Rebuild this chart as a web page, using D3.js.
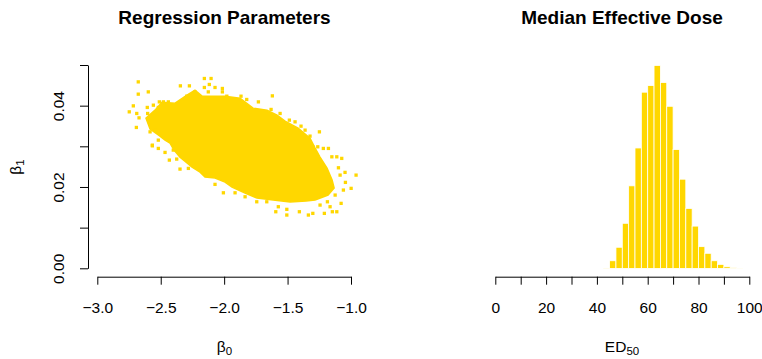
<!DOCTYPE html>
<html><head><meta charset="utf-8">
<script src="https://cdn.jsdelivr.net/npm/d3@7"></script>
<style>body{margin:0;background:#fff}svg{display:block}text{font-family:"Liberation Sans",Arial,sans-serif}</style>
</head><body><svg id="c" width="762" height="359"></svg>
<script>
// ---- data ----
const titles = ["Regression Parameters", "Median Effective Dose"];
const b0Ticks = [-3.0, -2.5, -2.0, -1.5, -1.0];
const b1Ticks = [0, 0.01, 0.02, 0.03, 0.04, 0.05];
const b1Labels = ["0.00", "", "0.02", "", "0.04", ""];
const edTicks = [0, 10, 20, 30, 40, 50, 60, 70, 80, 90, 100];
const edLabels = ["0", "", "20", "", "40", "", "60", "", "80", "", "100"];
// dense core of the posterior sample cloud (beta0, beta1) outline
const coreB0 = [-2.616,-2.545,-2.490,-2.387,-2.293,-2.230,-2.174,-2.072,-1.993,-1.875,-1.772,-1.662,-1.583,-1.520,-1.417,-1.323,-1.283,-1.244,-1.189,-1.149,-1.133,-1.181,-1.283,-1.354,-1.480,-1.614,-1.741,-1.835,-1.938,-1.993,-2.072,-2.151,-2.190,-2.253,-2.300,-2.348,-2.395,-2.427,-2.466,-2.506,-2.584];
const coreB1 = [0.03693,0.03889,0.04086,0.04061,0.04258,0.04381,0.04233,0.04233,0.04233,0.04184,0.03939,0.03889,0.03767,0.03619,0.03447,0.03201,0.02956,0.02735,0.02464,0.02170,0.01973,0.01801,0.01678,0.01654,0.01629,0.01678,0.01727,0.01850,0.01998,0.02120,0.02219,0.02243,0.02366,0.02489,0.02612,0.02735,0.02907,0.03079,0.03152,0.03251,0.03423];
// scattered individual samples outside the core
const ptB0 = [-2.677,-2.677,-2.598,-2.748,-2.716,-2.689,-2.671,-2.692,-2.606,-2.558,-2.519,-2.511,-2.603,-2.566,-2.519,-2.519,-2.345,-2.274,-2.156,-2.103,-2.156,-2.117,-2.072,-2.125,-2.014,-2.014,-1.979,-1.867,-2.230,-2.295,-2.440,-2.479,-2.584,-2.545,-1.620,-1.730,-1.822,-1.630,-1.559,-1.486,-1.441,-1.394,-1.362,-1.249,-1.323,-1.301,-1.262,-1.218,-1.178,-1.401,-1.151,-1.112,-1.073,-1.099,-1.047,-0.960,-1.086,-1.044,-0.999,-1.060,-1.125,-1.078,-1.112,-1.147,-1.165,-1.210,-1.301,-1.336,-1.407,-1.506,-1.506,-1.593,-1.835,-1.743,-1.664,-1.573,-1.244,-1.186,-2.566,-2.466,-2.432,-2.374,-2.348,-2.282,-2.072,-2.006,-1.914,-2.401];
const ptB1 = [0.04585,0.04283,0.04339,0.03848,0.03995,0.03808,0.03700,0.03464,0.03956,0.04012,0.03956,0.04093,0.03808,0.03029,0.03152,0.02948,0.04487,0.04487,0.04668,0.04668,0.04447,0.04521,0.04447,0.04339,0.04423,0.04339,0.04233,0.04233,0.04339,0.04233,0.04093,0.04093,0.03356,0.03398,0.04241,0.04093,0.04152,0.03907,0.03808,0.03644,0.03602,0.03496,0.03398,0.03356,0.03251,0.02988,0.02988,0.02948,0.02948,0.03317,0.02742,0.02742,0.02703,0.02472,0.02359,0.02292,0.02292,0.02113,0.01966,0.01924,0.01801,0.01597,0.01391,0.01391,0.01514,0.01351,0.01351,0.01310,0.01391,0.01310,0.01450,0.01391,0.01759,0.01636,0.01636,0.01514,0.01555,0.01636,0.03012,0.02850,0.02661,0.02686,0.02440,0.02457,0.02064,0.01857,0.01857,0.02907];
// ED50 histogram, bins of width 2.5
const binStart = [0,2.5,5,7.5,10,12.5,15,17.5,20,22.5,25,27.5,30,32.5,35,37.5,40,42.5,45,47.5,50,52.5,55,57.5,60,62.5,65,67.5,70,72.5,75,77.5,80,82.5,85,87.5,90,92.5,95,97.5];
const binCount = [0,0,0,0,0,0,0,0,0,0,0,0,0,0,0,0,0,2,38,105,224,410,598,875,908,1008,923,805,590,443,298,210,108,75,38,20,8,3,1,0];
const binWidth = 2.5;

// ---- drawing ----
const gold = "#FFD700";
const svg = d3.select("#c");
const tickFont = 15.5;

// Left panel
const x1 = d3.scaleLinear().domain([-3, -1]).range([97.3, 351]);
const y1 = d3.scaleLinear().domain([0, 0.05]).range([268.3, 65]);
const g1 = svg.append("g");
const core = coreB0.map((v, i) => [v, coreB1[i]]);
g1.append("path")
  .attr("d", d3.line().x(d => x1(d[0])).y(d => y1(d[1])).curve(d3.curveLinearClosed)(core))
  .attr("fill", gold).attr("stroke", gold).attr("stroke-width", 1.5);
const ps = 3.3;
g1.selectAll("rect.pt").data(ptB0.map((v, i) => [v, ptB1[i]])).join("rect")
  .attr("class", "pt")
  .attr("x", d => x1(d[0]) - ps / 2).attr("y", d => y1(d[1]) - ps / 2)
  .attr("width", ps).attr("height", ps).attr("fill", gold);

const ax1 = g1.append("g").attr("transform", "translate(0,276.7)")
  .call(d3.axisBottom(x1).tickValues(b0Ticks).tickSize(8).tickSizeOuter(0).tickFormat(""));
ax1.selectAll(".tick").append("text").attr("y", 36.5).attr("fill", "#000")
  .attr("text-anchor", "middle").style("font-size", tickFont + "px")
  .text(d => d3.format(".1f")(d).replace("-", "\u2212"));
const ay1 = g1.append("g").attr("transform", "translate(88,0)")
  .call(d3.axisLeft(y1).tickValues(b1Ticks).tickSize(8).tickSizeOuter(0).tickFormat(""));
ay1.selectAll(".tick").append("text")
  .attr("transform", "translate(-24,0) rotate(-90)").attr("fill", "#000")
  .attr("text-anchor", "middle").style("font-size", tickFont + "px")
  .text((d, i) => b1Labels[i]);

// Right panel
const x2 = d3.scaleLinear().domain([0, 100]).range([495.3, 749.3]);
const y2 = d3.scaleLinear().domain([0, d3.max(binCount)]).range([268.4, 65.4]);
const g2 = svg.append("g");
g2.selectAll("rect.bar").data(binStart.map((s, i) => [s, binCount[i]])).join("rect")
  .attr("class", "bar")
  .attr("x", d => x2(d[0])).attr("width", d => x2(d[0] + binWidth) - x2(d[0]))
  .attr("y", d => y2(d[1])).attr("height", d => y2(0) - y2(d[1]))
  .attr("fill", gold).attr("stroke", "#fff").attr("stroke-width", 0.8);
const ax2 = g2.append("g").attr("transform", "translate(0,276.7)")
  .call(d3.axisBottom(x2).tickValues(edTicks).tickSize(8).tickSizeOuter(0).tickFormat(""));
ax2.selectAll(".tick").append("text").attr("y", 36.5).attr("fill", "#000")
  .attr("text-anchor", "middle").style("font-size", tickFont + "px")
  .text((d, i) => edLabels[i]);

svg.selectAll(".domain, .tick line").attr("stroke", "#000").attr("stroke-width", 1);

// Titles
[[224.5, titles[0]], [622, titles[1]]].forEach(([cx, t]) => {
  svg.append("text").attr("x", cx).attr("y", 24).attr("text-anchor", "middle")
    .style("font-size", "19px").style("font-weight", "bold").text(t);
});

// Axis labels
const lb0 = svg.append("text").attr("x", 224.5).attr("y", 352).attr("text-anchor", "middle").style("font-size", tickFont + "px");
lb0.append("tspan").text("\u03B2");
lb0.append("tspan").attr("dy", 3).style("font-size", "11.5px").text("0");
const lb1 = svg.append("text").attr("transform", "translate(21,167) rotate(-90)").attr("text-anchor", "middle").style("font-size", tickFont + "px");
lb1.append("tspan").text("\u03B2");
lb1.append("tspan").attr("dy", 3).style("font-size", "11.5px").text("1");
const led = svg.append("text").attr("x", 622).attr("y", 352).attr("text-anchor", "middle").style("font-size", tickFont + "px");
led.append("tspan").text("ED");
led.append("tspan").attr("dy", 3).style("font-size", "11.5px").text("50");
</script></body></html>
